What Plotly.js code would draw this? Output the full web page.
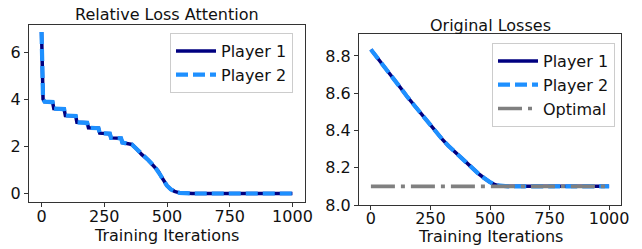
<!DOCTYPE html>
<html>
<head>
<meta charset="utf-8">
<script src="https://cdn.plot.ly/plotly-3.0.1.min.js"></script>
<style>html,body{margin:0;padding:0;background:#fff;}#chart{width:642px;height:249px;}</style>
</head>
<body>
<div id="chart"></div>
<script>
// ---- Data ----
const attnIter = [0, 3, 6, 12, 44, 49, 90, 95, 136, 141, 182, 187, 227, 232, 272, 277, 317, 322, 360, 380, 400, 425, 450, 465, 475, 487, 500, 515, 530, 550, 575, 600, 1000];
const attnPlayer1 = [6.85, 4.6, 4.0, 3.9, 3.88, 3.6, 3.58, 3.31, 3.29, 3.02, 3.0, 2.79, 2.77, 2.56, 2.54, 2.36, 2.34, 2.16, 2.08, 1.88, 1.65, 1.42, 1.15, 0.95, 0.76, 0.55, 0.33, 0.18, 0.09, 0.03, 0.005, 0, 0];
const attnPlayer2 = [6.85, 4.6, 4.0, 3.9, 3.88, 3.6, 3.58, 3.31, 3.29, 3.02, 3.0, 2.79, 2.77, 2.56, 2.54, 2.36, 2.34, 2.16, 2.08, 1.88, 1.65, 1.42, 1.15, 0.95, 0.76, 0.55, 0.33, 0.18, 0.09, 0.03, 0.005, 0, 0];

const lossIter = [0, 25, 50, 75, 100, 125, 150, 175, 200, 225, 250, 275, 300, 325, 350, 375, 400, 425, 450, 475, 500, 525, 550, 575, 1000];
const lossPlayer1 = [8.835, 8.795, 8.752, 8.712, 8.670, 8.628, 8.585, 8.545, 8.505, 8.465, 8.425, 8.388, 8.352, 8.318, 8.288, 8.257, 8.228, 8.198, 8.170, 8.145, 8.122, 8.107, 8.101, 8.100, 8.100];
const lossPlayer2 = [8.835, 8.795, 8.752, 8.712, 8.670, 8.628, 8.585, 8.545, 8.505, 8.465, 8.425, 8.388, 8.352, 8.318, 8.288, 8.257, 8.228, 8.198, 8.170, 8.145, 8.122, 8.107, 8.101, 8.100, 8.100];
const optimalIter = [0, 1000];
const optimalLoss = [8.1, 8.1];

const xTicks = [0, 250, 500, 750, 1000];
const leftYTicks = [0, 2, 4, 6];
const rightYTicks = [8.0, 8.2, 8.4, 8.6, 8.8];
const titles = ["Relative Loss Attention", "Original Losses"];
const xLabel = "Training Iterations";
const names = ["Player 1", "Player 2", "Optimal"];

// ---- Styles ----
const NAVY = "#000080", BLUE = "#1E90FF", GRAY = "#808080";
const FONT = "DejaVu Sans";
const W = 642, H = 249;

const traces = [
  {x: attnIter, y: attnPlayer1, xaxis: "x", yaxis: "y", name: names[0], legend: "legend",
   mode: "lines", line: {color: NAVY, width: 3.5}},
  {x: attnIter, y: attnPlayer2, xaxis: "x", yaxis: "y", name: names[1], legend: "legend",
   mode: "lines", line: {color: BLUE, width: 4.2, dash: "12px,5px"}},
  {x: lossIter, y: lossPlayer1, xaxis: "x2", yaxis: "y2", name: names[0], legend: "legend2",
   mode: "lines", line: {color: NAVY, width: 3.5}},
  {x: lossIter, y: lossPlayer2, xaxis: "x2", yaxis: "y2", name: names[1], legend: "legend2",
   mode: "lines", line: {color: BLUE, width: 4.2, dash: "12px,5px"}},
  {x: optimalIter, y: optimalLoss, xaxis: "x2", yaxis: "y2", name: names[2], legend: "legend2",
   mode: "lines", line: {color: GRAY, width: 3.7, dash: "24px,6px,4px,6px"}}
];

const axisCommon = {
  showline: true, mirror: true, linecolor: "#333", linewidth: 1,
  ticks: "outside", ticklen: 4, tickcolor: "#333", tickwidth: 1,
  showgrid: false, zeroline: false, automargin: false,
  tickfont: {family: FONT, size: 16, color: "#111"}
};

const L = {x0: 29, x1: 305, y0: 25, y1: 202};
const R = {x0: 359, x1: 621, y0: 34, y1: 205};

const legendCommon = {
  font: {family: FONT, size: 16, color: "#111"},
  bgcolor: "rgba(255,255,255,0.9)", bordercolor: "#cccccc", borderwidth: 1,
  xanchor: "left", yanchor: "top", tracegroupgap: 0, itemwidth: 40
};

const layout = {
  width: W, height: H,
  margin: {l: 0, r: 0, t: 0, b: 0},
  paper_bgcolor: "#fff", plot_bgcolor: "#fff",
  font: {family: FONT, size: 16, color: "#111"},
  xaxis: Object.assign({}, axisCommon, {domain: [L.x0 / W, L.x1 / W], range: [-50, 1050],
    tickvals: xTicks, anchor: "y", ticklabelstandoff: -4}),
  yaxis: Object.assign({}, axisCommon, {domain: [1 - L.y1 / H, 1 - L.y0 / H], range: [-0.36, 7.15],
    tickvals: leftYTicks, anchor: "x"}),
  xaxis2: Object.assign({}, axisCommon, {domain: [R.x0 / W, R.x1 / W], range: [-50, 1050],
    tickvals: xTicks, anchor: "y2", ticklabelstandoff: -5}),
  yaxis2: Object.assign({}, axisCommon, {domain: [1 - R.y1 / H, 1 - R.y0 / H], range: [8.0, 8.918],
    tickvals: rightYTicks, tickformat: ".1f", anchor: "x2"}),
  legend: Object.assign({}, legendCommon, {x: 170 / W, y: 1 - 33 / H}),
  legend2: Object.assign({}, legendCommon, {x: 492 / W, y: 1 - 43 / H}),
  annotations: [
    {text: titles[0], xref: "paper", yref: "paper", x: (L.x0 + L.x1) / 2 / W, y: 1 - 26 / H,
     xanchor: "center", yanchor: "bottom", showarrow: false, font: {family: FONT, size: 16, color: "#111"}},
    {text: titles[1], xref: "paper", yref: "paper", x: (R.x0 + R.x1) / 2 / W, y: 1 - 37 / H,
     xanchor: "center", yanchor: "bottom", showarrow: false, font: {family: FONT, size: 16, color: "#111"}},
    {text: xLabel, xref: "paper", yref: "paper", x: (L.x0 + L.x1) / 2 / W, y: 1 - 247 / H,
     xanchor: "center", yanchor: "bottom", showarrow: false, font: {family: FONT, size: 16, color: "#111"}},
    {text: xLabel, xref: "paper", yref: "paper", x: (R.x0 + R.x1) / 2 / W, y: 1 - 248 / H,
     xanchor: "center", yanchor: "bottom", showarrow: false, font: {family: FONT, size: 16, color: "#111"}}
  ],
  showlegend: true
};

Plotly.newPlot("chart", traces, layout, {staticPlot: true, displayModeBar: false});
</script>
</body>
</html>
